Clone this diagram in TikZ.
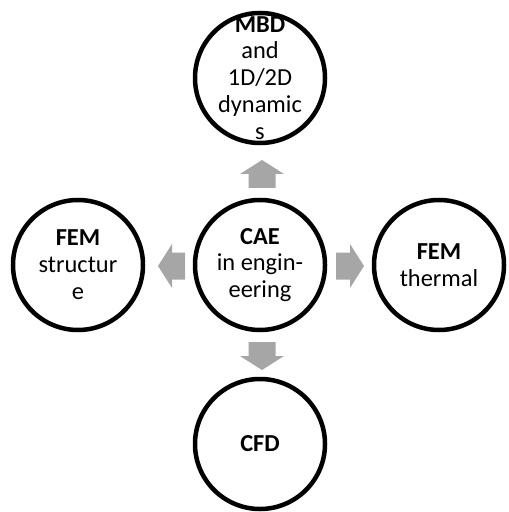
\documentclass[tikz,border=0pt]{standalone}
\usepackage{fontspec}
\setmainfont{Carlito}
\begin{document}
\begin{tikzpicture}[x=1bp,y=-1bp,
  bubble/.style={circle, draw=black, line width=4.5bp, fill=white,
                 minimum size=130bp, inner sep=0pt},
  bubbletext/.style={align=center, inner sep=0pt,
                     font=\fontsize{24.5}{27}\selectfont},
  blockarrow/.style={fill=arrowgray, draw=none}]
\definecolor{arrowgray}{HTML}{A6A6A6}
\useasboundingbox (0,0) rectangle (509,512);

% circles
\node[bubble] (cae)  at (260,265) {};
\node[bubble] (mbd)  at (260,78)  {};
\node[bubble] (cfd)  at (260,444) {};
\node[bubble] (fems) at (78,265)  {};
\node[bubble] (femt) at (439,265) {};

% circle texts (the top one runs past its circle)
\node[bubbletext] (caeT)  at (cae.center)  {\textbf{CAE}\\in engin-\\eering};
\node[bubbletext] (mbdT)  at (mbd.center) {\textbf{MBD}\\and\\1D/2D\\dynamic\\s};
\node[bubbletext] (cfdT)  at (cfd.center)  {\textbf{CFD}};
\node[bubbletext] (femsT) at (fems.center) {\textbf{FEM}\\structur\\e};
\node[bubbletext] (femtT) at (femt.center) {\textbf{FEM}\\thermal};

% block arrows pointing outwards from the centre
\fill[blockarrow] (262,160) -- (284,174) -- (275.5,174) -- (275.5,188)
  -- (248.5,188) -- (248.5,174) -- (240,174) -- cycle;
\fill[blockarrow] (262,370) -- (284,356) -- (275.5,356) -- (275.5,342)
  -- (248.5,342) -- (248.5,356) -- (240,356) -- cycle;
\fill[blockarrow] (158,266) -- (172,244) -- (172,252.5) -- (185,252.5)
  -- (185,279.5) -- (172,279.5) -- (172,288) -- cycle;
\fill[blockarrow] (364,266) -- (350,244) -- (350,252.5) -- (336,252.5)
  -- (336,279.5) -- (350,279.5) -- (350,288) -- cycle;
\end{tikzpicture}
\end{document}
